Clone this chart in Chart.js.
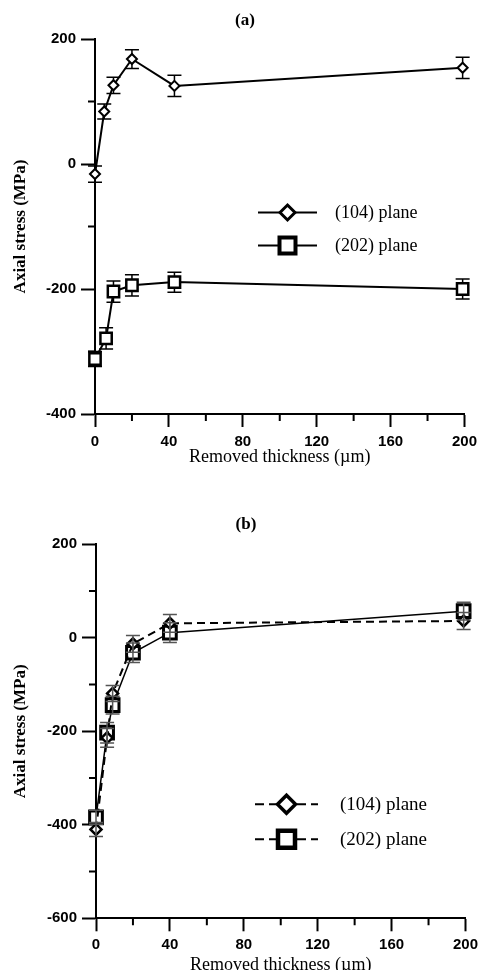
<!DOCTYPE html>
<html>
<head>
<meta charset="utf-8">
<script src="https://cdn.jsdelivr.net/npm/chart.js@4.4.0/dist/chart.umd.min.js"></script>
<style>
  html, body { margin: 0; padding: 0; background: #fff; overflow: hidden; }
  .box { position: relative; width: 483px; }
  #boxA { height: 485px; }
  #boxB { height: 500px; }
</style>
</head>
<body>
<div class="box" id="boxA"><canvas id="chartA"></canvas></div>
<div class="box" id="boxB"><canvas id="chartB"></canvas></div>
<script>
// panel (a)
const A_X_104 = [0, 5, 10, 20, 43, 199];
const A_Y_104 = [-16, 84, 126, 168, 125, 154];
const A_ERR_104 = [13, 12, 13, 15, 17, 17];
const A_X_202 = [0, 6, 10, 20, 43, 199];
const A_Y_202 = [-312, -279, -204, -194, -189, -200];
const A_ERR_202 = [12, 17, 17, 17, 16, 16];

// panel (b)
const B_X = [0, 6, 9, 20, 40, 199];
const B_Y_104 = [-410, -214, -119, -13, 31, 36];
const B_ERR_104 = [15, 20, 17, 18, 19, 18];
const B_Y_202 = [-384, -203, -144, -32, 11, 57];
const B_ERR_202 = [15, 22, 19, 21, 21, 19];

// axes
const X_RANGE = [0, 200];
const X_STEP = 40;
const A_Y_RANGE = [-400, 200];
const B_Y_RANGE = [-600, 200];
const Y_STEP = 200;
const LEGEND = ["(104) plane", "(202) plane"];

const SERIF = "'Liberation Serif', 'Times New Roman', serif";
const SANS = "'Liberation Sans', Arial, sans-serif";

const pts = (xs, ys) => xs.map((x, i) => ({ x: x, y: ys[i] }));

// error bars, drawn through the chart scales
const errorBars = {
  id: "errorBars",
  draw(chart, opts) {
    const ctx = chart.ctx;
    const xs = chart.scales.x, ys = chart.scales.y;
    ctx.save();
    ctx.strokeStyle = opts.color;
    ctx.lineWidth = opts.width;
    chart.data.datasets.forEach((ds) => {
      ds.data.forEach((p, i) => {
        const px = xs.getPixelForValue(p.x);
        const top = ys.getPixelForValue(p.y + ds.err[i]);
        const bot = ys.getPixelForValue(p.y - ds.err[i]);
        ctx.beginPath();
        ctx.moveTo(px, top); ctx.lineTo(px, bot);
        ctx.moveTo(px - opts.cap, top); ctx.lineTo(px + opts.cap, top);
        ctx.moveTo(px - opts.cap, bot); ctx.lineTo(px + opts.cap, bot);
        ctx.stroke();
      });
    });
    ctx.restore();
  },
  beforeDatasetsDraw(chart, args, opts) {
    if (!opts.front) this.draw(chart, opts);
  },
  afterDatasetsDraw(chart, args, opts) {
    if (opts.front) this.draw(chart, opts);
  },
};

// short ticks half way between the labelled ones
const minorTicks = {
  id: "minorTicks",
  afterDraw(chart, args, opts) {
    const { ctx, chartArea } = chart;
    const xs = chart.scales.x, ys = chart.scales.y;
    ctx.save();
    ctx.strokeStyle = "#000";
    ctx.lineWidth = 2;
    ctx.beginPath();
    for (let i = 0; i < xs.ticks.length - 1; i++) {
      const px = xs.getPixelForValue((xs.ticks[i].value + xs.ticks[i + 1].value) / 2);
      ctx.moveTo(px, chartArea.bottom);
      ctx.lineTo(px, chartArea.bottom + opts.len);
    }
    for (let i = 0; i < ys.ticks.length - 1; i++) {
      const py = ys.getPixelForValue((ys.ticks[i].value + ys.ticks[i + 1].value) / 2);
      ctx.moveTo(chartArea.left, py);
      ctx.lineTo(chartArea.left - opts.len, py);
    }
    ctx.stroke();
    ctx.restore();
  },
};

// legend inside the plot: line sample + marker + label
const planeLegend = {
  id: "planeLegend",
  afterDraw(chart, args, opts) {
    const { ctx, chartArea } = chart;
    chart.data.datasets.forEach((ds, i) => {
      const x0 = chartArea.left + opts.left;
      const y = chartArea.top + opts.top + i * opts.gap;
      const cx = x0 + opts.lineLen / 2;
      ctx.save();
      ctx.strokeStyle = "#000";
      ctx.lineWidth = 2;
      ctx.setLineDash(opts.dash);
      ctx.beginPath();
      ctx.moveTo(x0, y);
      ctx.lineTo(x0 + opts.lineLen, y);
      ctx.stroke();
      ctx.setLineDash([]);
      const r = opts.size[i];
      ctx.lineWidth = opts.border[i];
      ctx.fillStyle = "#fff";
      ctx.beginPath();
      if (ds.pointStyle === "rectRot") {
        ctx.moveTo(cx, y - r); ctx.lineTo(cx + r, y);
        ctx.lineTo(cx, y + r); ctx.lineTo(cx - r, y);
      } else {
        ctx.rect(cx - r, y - r, 2 * r, 2 * r);
      }
      ctx.closePath();
      ctx.fill();
      ctx.stroke();
      ctx.fillStyle = "#000";
      ctx.font = opts.fontSize + "px " + SERIF;
      ctx.textBaseline = "middle";
      ctx.textAlign = "left";
      ctx.fillText(LEGEND[i], x0 + opts.textOffset, y + 1);
      ctx.restore();
    });
  },
};

const makeOptions = (cfg) => ({
  responsive: true,
  maintainAspectRatio: false,
  animation: false,
  layout: { padding: { left: cfg.left, right: cfg.right, top: 0, bottom: 0 } },
  plugins: {
    legend: { display: false },
    tooltip: { enabled: false },
    title: {
      display: true,
      text: cfg.title,
      color: "#000",
      font: { family: SERIF, size: 17, weight: "bold" },
      padding: cfg.titlePad,
    },
    errorBars: cfg.errorBars,
    minorTicks: { len: 7 },
    planeLegend: cfg.legend,
  },
  scales: {
    x: {
      type: "linear",
      min: X_RANGE[0],
      max: X_RANGE[1],
      ticks: {
        stepSize: X_STEP,
        color: "#000",
        padding: cfg.xTickPad,
        maxRotation: 0,
        font: { family: SANS, size: 15, weight: "bold" },
      },
      grid: { drawOnChartArea: false, drawTicks: true, tickLength: 13, tickWidth: 2, tickColor: "#000" },
      border: { display: true, color: "#000", width: 2 },
      title: {
        display: true,
        text: "Removed thickness (\u00b5m)",
        color: "#000",
        font: { family: SERIF, size: 18 },
        padding: { top: 0, bottom: cfg.xTitlePad },
      },
      afterFit: (s) => { s.height = cfg.xHeight; },
    },
    y: {
      min: cfg.yRange[0],
      max: cfg.yRange[1],
      ticks: {
        stepSize: Y_STEP,
        color: "#000",
        padding: 5,
        font: { family: SANS, size: 15, weight: "bold" },
      },
      grid: { drawOnChartArea: false, drawTicks: true, tickLength: 14, tickWidth: 2, tickColor: "#000" },
      border: { display: true, color: "#000", width: 2 },
      title: {
        display: true,
        text: "Axial stress (MPa)",
        color: "#000",
        font: { family: SERIF, size: 17, weight: "bold" },
        padding: { top: 10 - cfg.left, bottom: 0 },
      },
      afterFit: (s) => { s.width = cfg.yWidth - cfg.left; },
    },
  },
});

new Chart(document.getElementById("chartA"), {
  type: "line",
  data: {
    datasets: [
      {
        label: LEGEND[0],
        data: pts(A_X_104, A_Y_104),
        err: A_ERR_104,
        borderColor: "#000",
        borderWidth: 2,
        pointStyle: "rectRot",
        pointRadius: 5,
        pointBorderWidth: 2,
        pointBackgroundColor: "#fff",
        pointBorderColor: "#000",
        tension: 0,
        clip: false,
      },
      {
        label: LEGEND[1],
        data: pts(A_X_202, A_Y_202),
        err: A_ERR_202,
        borderColor: "#000",
        borderWidth: 2,
        pointStyle: "rect",
        pointRadius: 8,
        pointBorderWidth: 2.5,
        pointBackgroundColor: "#fff",
        pointBorderColor: "#000",
        tension: 0,
        clip: false,
      },
    ],
  },
  options: makeOptions({
    title: "(a)",
    titlePad: { top: 10, bottom: 8.6 },
    left: 22,
    right: 15,
    yRange: A_Y_RANGE,
    yWidth: 95,
    xHeight: 71,
    xTickPad: 6,
    xTitlePad: 17,
    errorBars: { color: "#000", width: 1.5, cap: 7, front: false },
    legend: { left: 163, top: 173.5, gap: 33, lineLen: 59, dash: [], size: [7.5, 8], border: [3, 4], textOffset: 77, fontSize: 18 },
  }),
  plugins: [errorBars, minorTicks, planeLegend],
});

new Chart(document.getElementById("chartB"), {
  type: "line",
  data: {
    datasets: [
      {
        label: LEGEND[0],
        data: pts(B_X, B_Y_104),
        err: B_ERR_104,
        borderColor: "#000",
        borderWidth: 2,
        borderDash: [8, 5],
        pointStyle: "rectRot",
        pointRadius: 5.5,
        pointBorderWidth: 2.5,
        pointBackgroundColor: "#fff",
        pointBorderColor: "#000",
        tension: 0,
        clip: false,
      },
      {
        label: LEGEND[1],
        data: pts(B_X, B_Y_202),
        err: B_ERR_202,
        borderColor: "#000",
        borderWidth: 1.5,
        pointStyle: "rect",
        pointRadius: 9,
        pointBorderWidth: 3,
        pointBackgroundColor: "#fff",
        pointBorderColor: "#000",
        tension: 0,
        clip: false,
      },
    ],
  },
  options: makeOptions({
    title: "(b)",
    titlePad: { top: 29.8, bottom: 9.1 },
    left: 22,
    right: 13,
    yRange: B_Y_RANGE,
    yWidth: 96,
    xHeight: 66.7,
    xTickPad: 5,
    xTitlePad: 9,
    errorBars: { color: "#555", width: 1.5, cap: 7, front: true },
    legend: { left: 159, top: 260, gap: 35, lineLen: 63, dash: [9, 5], size: [9, 8.5], border: [3.5, 4.5], textOffset: 85, fontSize: 19 },
  }),
  plugins: [errorBars, minorTicks, planeLegend],
});
</script>
</body>
</html>
